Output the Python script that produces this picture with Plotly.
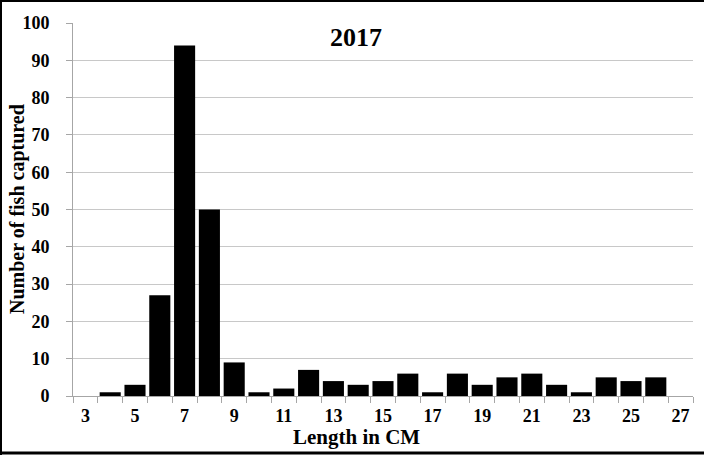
import plotly.graph_objects as go

lengths = list(range(3, 28))
counts = [0, 1, 3, 27, 94, 50, 9, 1, 2, 7, 4, 3, 4, 6, 1, 6, 3, 5, 6, 3, 1, 5, 4, 5, 0]
tick_labels = [str(v) for v in range(3, 28, 2)]
boundaries = [v + 0.5 for v in range(2, 28)]

W, H = 704, 455
ml, mr, mt, mb = 73, 11, 23, 59
pw, ph = W - ml - mr, H - mt - mb

def px_x(x):
    return (x - ml) / pw

def px_y(y):
    return (H - mb - y) / ph

fig = go.Figure(go.Bar(x=lengths, y=counts, marker=dict(color="black", line=dict(width=0)),
                       width=0.85))

fig.update_layout(
    width=W, height=H, margin=dict(l=ml, r=mr, t=mt, b=mb, autoexpand=False),
    paper_bgcolor="white", plot_bgcolor="white", showlegend=False,
    font=dict(family="Liberation Serif", size=18, color="black", weight="bold"),
    annotations=[
        dict(text="2017", x=px_x(356), y=px_y(37), xref="paper", yref="paper",
             showarrow=False, xanchor="center", yanchor="middle",
             font=dict(family="Liberation Serif", size=26, color="black", weight="bold")),
        dict(text="Length in CM", x=px_x(356), y=px_y(437), xref="paper", yref="paper",
             showarrow=False, xanchor="center", yanchor="middle",
             font=dict(family="Liberation Serif", size=21, color="black", weight="bold")),
        dict(text="Number of fish captured", x=px_x(17), y=px_y(209), xref="paper", yref="paper",
             showarrow=False, xanchor="center", yanchor="middle", textangle=-90,
             font=dict(family="Liberation Serif", size=20, color="black", weight="bold")),
    ],
    shapes=[
        dict(type="line", xref="paper", yref="paper", x0=px_x(0), x1=px_x(704), y0=px_y(1), y1=px_y(1),
             line=dict(color="black", width=2)),
        dict(type="line", xref="paper", yref="paper", x0=px_x(1), x1=px_x(1), y0=px_y(0), y1=px_y(455),
             line=dict(color="black", width=2)),
        dict(type="line", xref="paper", yref="paper", x0=px_x(0), x1=px_x(704), y0=px_y(453), y1=px_y(453),
             line=dict(color="black", width=3)),
    ],
)

fig.update_xaxes(
    range=[2.5, 27.5], tickmode="array", tickvals=list(range(3, 28, 2)), ticktext=tick_labels,
    ticks="", showgrid=False, showline=True, linecolor="#a6a6a6", linewidth=1,
    ticklabelstandoff=3, automargin=False,
    tickfont=dict(family="Liberation Serif", size=18, color="black", weight="bold"),
    minor=dict(tickmode="array", tickvals=boundaries, ticks="outside", ticklen=6,
               tickcolor="#a6a6a6", showgrid=False),
    zeroline=False,
)
fig.update_yaxes(
    range=[0, 100], tickmode="linear", tick0=0, dtick=10,
    ticks="outside", ticklen=6, tickcolor="#a6a6a6",
    showgrid=True, gridcolor="#c8c8c8", gridwidth=1,
    showline=True, linecolor="#a6a6a6", linewidth=1, zeroline=False,
    ticklabelstandoff=13, automargin=False,
    tickfont=dict(family="Liberation Serif", size=18, color="black", weight="bold"),
)

fig.write_html("out.html", config={"displayModeBar": False},
               post_script="document.body.style.margin='0';")
